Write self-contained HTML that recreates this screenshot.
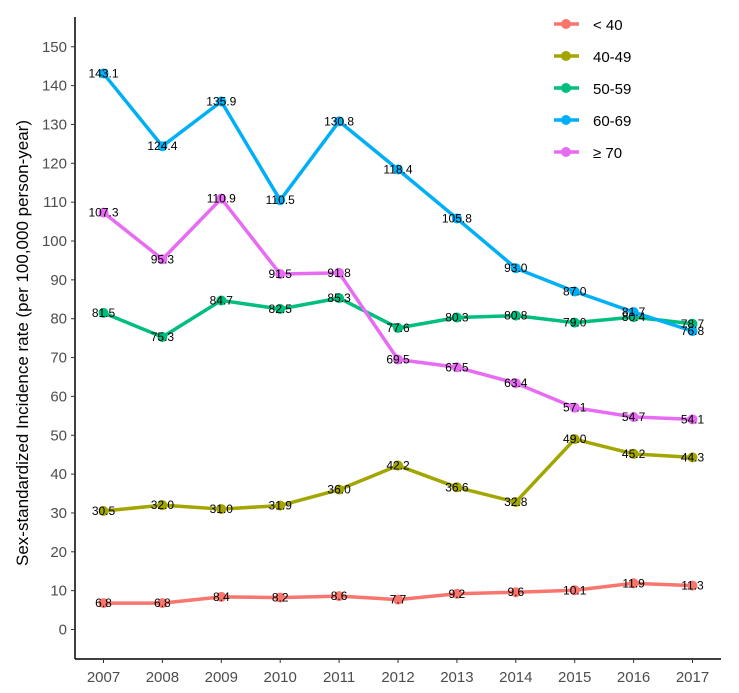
<!DOCTYPE html>
<html><head><meta charset="utf-8"><style>
body{margin:0;background:#fff}
svg{display:block;font-family:"Liberation Sans",Arial,sans-serif}
</style></head><body>
<svg id="chart" width="739" height="693" viewBox="0 0 739 693" xmlns="http://www.w3.org/2000/svg">
<g id="axes"></g><g id="series"></g><g id="labels"></g><g id="legend"></g>
<text transform="translate(28,343) rotate(-90)" text-anchor="middle" font-size="17" fill="#000">Sex-standardized Incidence rate (per 100,000 person-year)</text>
</svg>
<script>
const years = [2007,2008,2009,2010,2011,2012,2013,2014,2015,2016,2017];
const groups = ["< 40","40-49","50-59","60-69","≥ 70"];
const s_lt40 = [6.8,6.8,8.4,8.2,8.6,7.7,9.2,9.6,10.1,11.9,11.3];
const s_40_49 = [30.5,32.0,31.0,31.9,36.0,42.2,36.6,32.8,49.0,45.2,44.3];
const s_50_59 = [81.5,75.3,84.7,82.5,85.3,77.6,80.3,80.8,79.0,80.4,78.7];
const s_60_69 = [143.1,124.4,135.9,110.5,130.8,118.4,105.8,93.0,87.0,81.7,76.8];
const s_ge70 = [107.3,95.3,110.9,91.5,91.8,69.5,67.5,63.4,57.1,54.7,54.1];
const yTicks = [0,10,20,30,40,50,60,70,80,90,100,110,120,130,140,150];
const colors = ["#F8766D","#A3A500","#00BF7D","#00B0F6","#E76BF3"];
const seriesList = [s_lt40,s_40_49,s_50_59,s_60_69,s_ge70];
const NS="http://www.w3.org/2000/svg";
const xS = i => 103.5 + i*58.9;
const yS = v => 629.5 - v*3.885;
function mk(tag, attrs, parent){const e=document.createElementNS(NS,tag);for(const k in attrs)e.setAttribute(k,attrs[k]);parent.appendChild(e);return e;}
const axes=document.getElementById('axes');
let e=mk('line',{x1:75,y1:17,x2:75,y2:659,stroke:'#000','stroke-width':1.5},axes);


e=mk('line',{x1:75,y1:659,x2:721,y2:659,stroke:'#000','stroke-width':1.5},axes);


yTicks.forEach(t=>{
  const y=yS(t);
  mk('line',{x1:71,y1:y,x2:75,y2:y,stroke:'#333','stroke-width':1},axes);
  const tx=mk('text',{x:67,y:y+5,'text-anchor':'end','font-size':15,fill:'#4d4d4d'},axes);
  tx.textContent=t;
  
  
});
years.forEach((yr,i)=>{
  const x=xS(i);
  mk('line',{x1:x,y1:659,x2:x,y2:663,stroke:'#333','stroke-width':1},axes);
  const tx=mk('text',{x:x,y:682,'text-anchor':'middle','font-size':15,fill:'#4d4d4d'},axes);
  tx.textContent=yr;
  
  
});
const sg=document.getElementById('series'), lg=document.getElementById('labels');
seriesList.forEach((vals,si)=>{
  const pts=vals.map((v,i)=>xS(i)+','+yS(v)).join(' ');
  const pl=mk('polyline',{points:pts,fill:'none',stroke:colors[si],'stroke-width':3.5,'stroke-linejoin':'round'},sg);
  
  
  vals.forEach((v,i)=>{
    const c=mk('circle',{cx:xS(i),cy:yS(v),r:5,fill:colors[si]},sg);
    
    
    const t=mk('text',{x:xS(i),y:yS(v)+4,'text-anchor':'middle','font-size':12,fill:'#000'},lg);
    t.textContent=v.toFixed(1);
    
    
  });
});
const leg=document.getElementById('legend');
groups.forEach((g,i)=>{
  const y=24+i*32;
  const ln=mk('line',{x1:554,y1:y,x2:579,y2:y,stroke:colors[i],'stroke-width':3.5},leg);
  
  
  mk('circle',{cx:566,cy:y,r:5,fill:colors[i]},leg);
  const t=mk('text',{x:593,y:y+6,'font-size':15,fill:'#000'},leg);
  t.textContent=g;
  
  
});
</script>
</body></html>
